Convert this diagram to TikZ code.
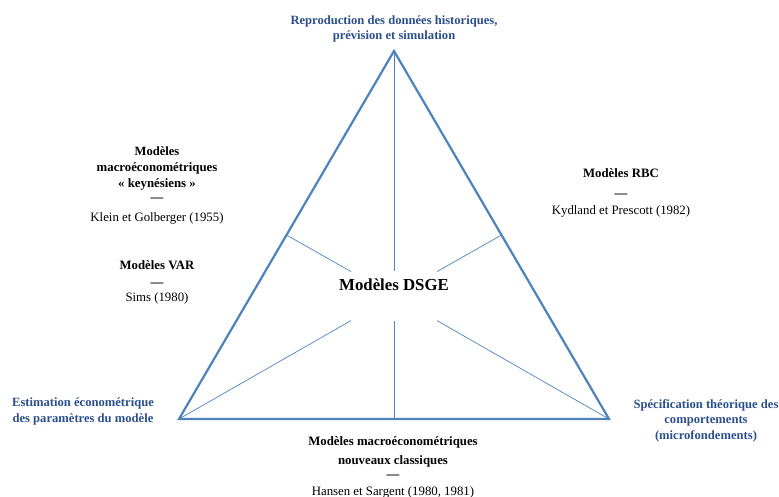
\documentclass[tikz,border=0pt]{standalone}
\usepackage{fontspec}
\setmainfont{Liberation Serif}
\usetikzlibrary{calc}
\definecolor{linec}{HTML}{4F81BD}
\definecolor{labc}{HTML}{2B4F8C}
\begin{document}
\begin{tikzpicture}[x=1pt,y=-1pt,
  outer/.style={draw=linec,line width=2.2pt,line join=miter},
  inner/.style={draw=linec,line width=0.7pt},
  pole/.style={font=\fontsize{12.6}{15.5}\selectfont\bfseries,text=labc,align=center,inner sep=0pt},
  model/.style={font=\fontsize{12.8}{17}\selectfont,align=center,inner sep=0pt}]
\useasboundingbox (0,0) rectangle (779,497);
\coordinate (A) at (394,51);
\coordinate (B) at (179,419);
\coordinate (C) at (609,419);
\coordinate (G) at (394,296);
\coordinate (mAB) at ($(A)!0.5!(B)$);
\coordinate (mAC) at ($(A)!0.5!(C)$);
\coordinate (mBC) at ($(B)!0.5!(C)$);
\draw[inner] (A) -- (mBC);
\draw[inner] (mAB) -- (G);
\draw[inner] (mAC) -- (G);
\draw[inner] (B) -- (G);
\draw[inner] (C) -- (G);
\draw[outer] (A) -- (B) -- (C) -- cycle;
\node[fill=white,minimum width=86pt,minimum height=50pt,inner sep=0pt] (dsge) at (G) {};
\node[font=\fontsize{16.8}{20}\selectfont\bfseries,inner sep=0pt] (dsget) at (394,285) {Modèles DSGE};
\node[pole] (top) at (394,29) {Reproduction des données historiques,\\prévision et simulation};
\node[pole] (left) at (83,411.5) {Estimation économétrique\\des paramètres du modèle};
\node[pole] (right) at (706,420.5) {Spécification théorique des\\comportements\\(microfondements)};
\node[model] (keyn) at (157,185.5) {\fontsize{12.6}{17}\selectfont\textbf{Modèles}\\[-1.5pt]\textbf{macroéconométriques}\\[-1pt]\textbf{« keynésiens »}\\[-3pt]\textbf{—}\\[3pt]Klein et Golberger (1955)};
\node[model] (var) at (157,282) {\textbf{Modèles VAR}\\[0pt]\textbf{—}\\[-2pt]Sims (1980)};
\node[model] (rbc) at (621,193) {\textbf{Modèles RBC}\\[3pt]\textbf{—}\\[0pt]Kydland et Prescott (1982)};
\node[model] (nc) at (393,467.5) {\textbf{Modèles macroéconométriques}\\[2pt]\textbf{nouveaux classiques}\\[-3pt]\textbf{—}\\[0pt]Hansen et Sargent (1980, 1981)};
\end{tikzpicture}
\end{document}
